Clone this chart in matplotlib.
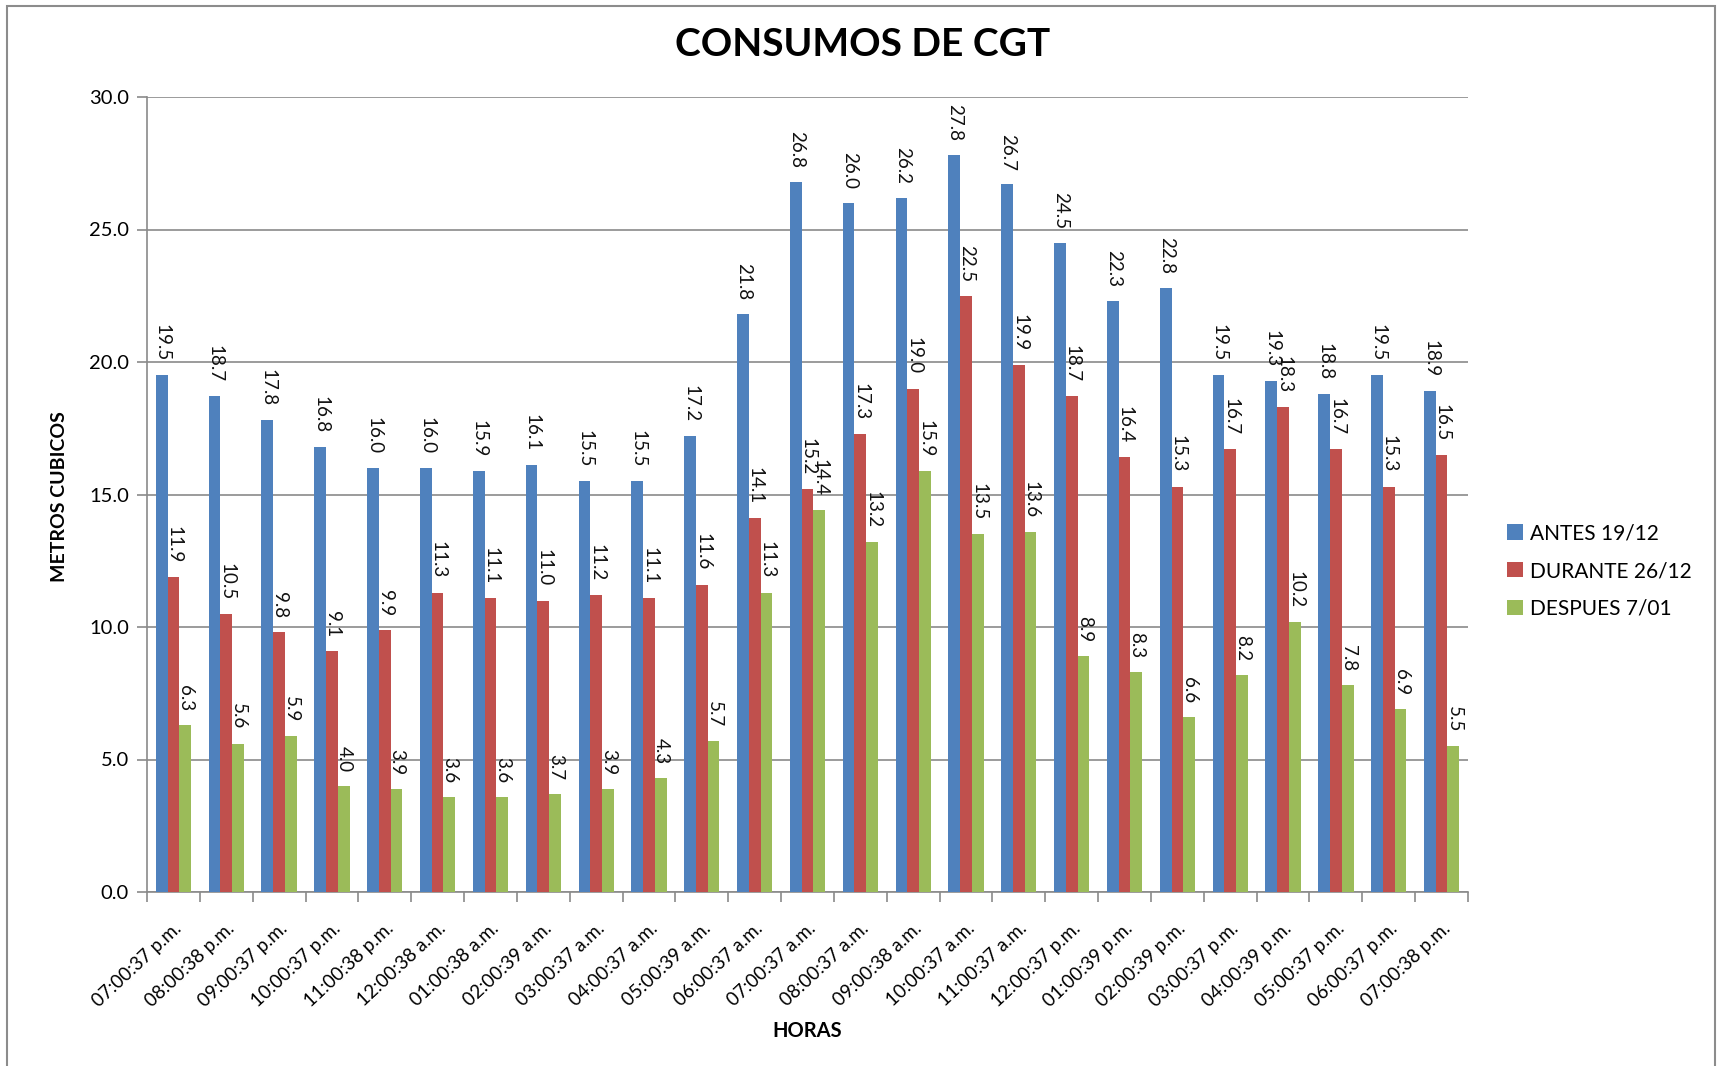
import matplotlib
matplotlib.use("Agg")
import matplotlib.pyplot as plt
import numpy as np
from matplotlib.patches import Rectangle

categories = ["07:00:37 p.m.", "08:00:38 p.m.", "09:00:37 p.m.", "10:00:37 p.m.", "11:00:38 p.m.",
              "12:00:38 a.m.", "01:00:38 a.m.", "02:00:39 a.m.", "03:00:37 a.m.", "04:00:37 a.m.",
              "05:00:39 a.m.", "06:00:37 a.m.", "07:00:37 a.m.", "08:00:37 a.m.", "09:00:38 a.m.",
              "10:00:37 a.m.", "11:00:37 a.m.", "12:00:37 p.m.", "01:00:39 p.m.", "02:00:39 p.m.",
              "03:00:37 p.m.", "04:00:39 p.m.", "05:00:37 p.m.", "06:00:37 p.m.", "07:00:38 p.m."]
antes = [19.5, 18.7, 17.8, 16.8, 16.0, 16.0, 15.9, 16.1, 15.5, 15.5, 17.2, 21.8, 26.8,
         26.0, 26.2, 27.8, 26.7, 24.5, 22.3, 22.8, 19.5, 19.3, 18.8, 19.5, 18.9]
durante = [11.9, 10.5, 9.8, 9.1, 9.9, 11.3, 11.1, 11.0, 11.2, 11.1, 11.6, 14.1, 15.2,
           17.3, 19.0, 22.5, 19.9, 18.7, 16.4, 15.3, 16.7, 18.3, 16.7, 15.3, 16.5]
despues = [6.3, 5.6, 5.9, 4.0, 3.9, 3.6, 3.6, 3.7, 3.9, 4.3, 5.7, 11.3, 14.4,
           13.2, 15.9, 13.5, 13.6, 8.9, 8.3, 6.6, 8.2, 10.2, 7.8, 6.9, 5.5]
series_names = ["ANTES 19/12", "DURANTE 26/12", "DESPUES 7/01"]
colors = ["#4F81BD", "#C0504D", "#9BBB59"]
yticks = [0.0, 5.0, 10.0, 15.0, 20.0, 25.0, 30.0]

plt.rcParams['font.family'] = ['Lato', 'DejaVu Sans']

W, H = 1723, 1066
fig = plt.figure(figsize=(W / 100, H / 100), dpi=100)
ax = fig.add_axes([147 / W, 1 - 892 / H, (1468 - 147) / W, (892 - 97) / H])

# outer chart border
fig.patches.append(Rectangle((7 / W, -0.05), (1715 - 7) / W, 1.05 - 6 / H,
                             transform=fig.transFigure, fill=False,
                             edgecolor="#8c8c8c", linewidth=1.5))

x = np.arange(len(categories))
w = 1 / 4.5
for i, (vals, name, c) in enumerate(zip([antes, durante, despues], series_names, colors)):
    pos = x + (i - 1) * w
    ax.bar(pos, vals, width=w, color=c, label=name, zorder=3)
    for px_, v in zip(pos, vals):
        ax.annotate(f"{v:.1f}", (px_, v), xytext=(0.5, 10), textcoords="offset points",
                    rotation=270, ha="center", va="bottom",
                    fontsize=13.5, color="#111111", zorder=4)

ax.set_xlim(-0.5, len(categories) - 0.5)
ax.set_ylim(0, 30)
ax.set_yticks(yticks)
ax.set_yticklabels([f"{t:.1f}" for t in yticks], fontsize=14.5)
ax.yaxis.grid(True, color="#8a8a8a", linewidth=1.2, zorder=0)
ax.set_axisbelow(True)

ax.set_xticks(x)
ax.set_xticklabels(categories, rotation=43, ha="right", rotation_mode="anchor", fontsize=13.5)
ax.tick_params(axis="x", which="major", length=0, pad=20)
ax.set_xticks(np.arange(-0.5, len(categories), 1.0), minor=True)
ax.tick_params(axis="x", which="minor", length=7, color="#8a8a8a", width=1.2)
ax.tick_params(axis="y", length=7, color="#8a8a8a", width=1.2, pad=6)

for s in ["top", "right"]:
    ax.spines[s].set_visible(False)
for s in ["left", "bottom"]:
    ax.spines[s].set_color("#8a8a8a")
    ax.spines[s].set_linewidth(1.2)

fig.text(60 / W, 1 - 497 / H, "METROS CUBICOS", rotation=90, ha="center", va="center",
         fontsize=14, fontweight="bold")
fig.text(807 / W, 1 - 1031 / H, "HORAS", ha="center", va="center",
         fontsize=14.5, fontweight="bold")
fig.text(863 / W, 1 - 44 / H, "CONSUMOS DE CGT", ha="center", va="center",
         fontsize=28, fontweight="bold")

handles, labels = ax.get_legend_handles_labels()
fig.legend(handles, labels, loc="center left", bbox_to_anchor=(1497 / W, 1 - 571 / H),
           frameon=False, fontsize=15, handlelength=0.75, handleheight=0.75,
           labelspacing=0.85, handletextpad=0.35, borderpad=0.0)

fig.savefig("out.png", dpi=100)
